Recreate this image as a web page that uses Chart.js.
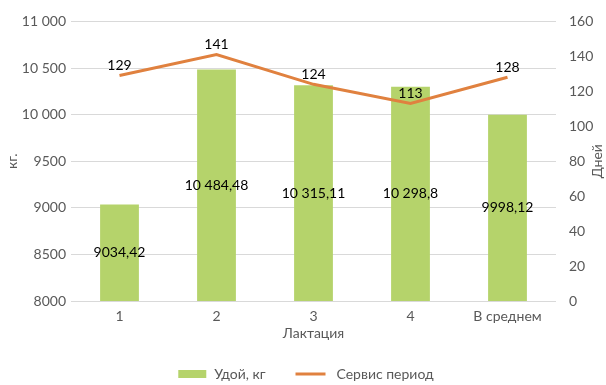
<!DOCTYPE html>
<html>
<head>
<meta charset="utf-8">
<script src="https://cdn.jsdelivr.net/npm/chart.js@4"></script>
<style>
    html, body { margin: 0; padding: 0; background: #fff; }
    #wrap { width: 606px; height: 385px; }
</style>
</head>
<body>
<div id="wrap"><canvas id="chart"></canvas></div>
<script>
// данные по лактациям
const lactations = ["1", "2", "3", "4", "В среднем"];
const milkYield = [9034.42, 10484.48, 10315.11, 10298.8, 9998.12];
const servicePeriod = [129, 141, 124, 113, 128];

const yieldTicks = [8000, 8500, 9000, 9500, 10000, 10500, 11000];
const dayTicks = [0, 20, 40, 60, 80, 100, 120, 140, 160];

const green = "#b5d36b";
const orange = "#e0813f";
const gray = "#595959";
const font = "Lato";

// 10484.48 -> "10 484,48", 9034.42 -> "9034,42"
function fmt(v) {
    var parts = String(v).split(".");
    var int = parts[0];
    if (int.length > 4) {
        int = int.replace(/\B(?=(\d{3})+(?!\d))/g, " ");
    }
    return parts.length > 1 ? int + "," + parts[1] : int;
}

// подписи значений на столбцах и на линии + заголовок правой оси
const valueLabels = {
    id: "valueLabels",
    afterDatasetsDraw(chart) {
        var ctx = chart.ctx;
        var yScale = chart.scales.y;
        var y1Scale = chart.scales.y1;
        ctx.save();
        ctx.fillStyle = "#000";
        ctx.font = "14px " + font;
        ctx.textAlign = "center";

        var bars = chart.getDatasetMeta(0);
        bars.data.forEach(function (el, i) {
            var top = yScale.getPixelForValue(milkYield[i]);
            var base = yScale.getPixelForValue(yScale.min);
            ctx.textBaseline = "middle";
            ctx.fillText(fmt(milkYield[i]), el.x, (top + base) / 2);
        });

        var line = chart.getDatasetMeta(1);
        line.data.forEach(function (el, i) {
            var y = y1Scale.getPixelForValue(servicePeriod[i]);
            ctx.textBaseline = "bottom";
            ctx.fillText(fmt(servicePeriod[i]), el.x, y - 3);
        });

        // "Дней" читается снизу вверх, как у левой оси
        ctx.fillStyle = gray;
        ctx.textBaseline = "middle";
        ctx.translate(597, (y1Scale.top + y1Scale.bottom) / 2);
        ctx.rotate(-Math.PI / 2);
        ctx.fillText("Дней", 0, 0);
        ctx.restore();
    }
};

// легенда внизу: прямоугольник для столбцов, отрезок для линии
const bottomLegend = {
    id: "bottomLegend",
    afterDraw(chart) {
        var ctx = chart.ctx;
        var names = chart.data.datasets.map(function (d) { return d.label; });
        var cy = 374;
        ctx.save();
        ctx.font = "14px " + font;
        var w1 = ctx.measureText(names[0]).width;
        var w2 = ctx.measureText(names[1]).width;
        var total = 28 + 8 + w1 + 30 + 30 + 11 + w2;
        var x = 306 - total / 2;

        ctx.fillStyle = green;
        ctx.fillRect(x, cy - 4, 28, 8);
        x += 28 + 8;
        ctx.fillStyle = gray;
        ctx.textAlign = "left";
        ctx.textBaseline = "middle";
        ctx.fillText(names[0], x, cy);
        x += w1 + 30;

        ctx.strokeStyle = orange;
        ctx.lineWidth = 3;
        ctx.beginPath();
        ctx.moveTo(x, cy);
        ctx.lineTo(x + 30, cy);
        ctx.stroke();
        x += 30 + 11;
        ctx.fillText(names[1], x, cy);
        ctx.restore();
    }
};

var ctx = document.getElementById("chart").getContext("2d");
var myChart = new Chart(ctx, {
    data: {
        labels: lactations,
        datasets: [
            {
                type: "bar",
                label: "Удой, кг",
                data: milkYield,
                yAxisID: "y",
                backgroundColor: green,
                barPercentage: 0.4,
                categoryPercentage: 1,
                order: 1
            },
            {
                type: "line",
                label: "Сервис период",
                data: servicePeriod,
                yAxisID: "y1",
                borderColor: orange,
                backgroundColor: orange,
                borderWidth: 3,
                pointRadius: 0,
                tension: 0,
                order: 0
            }
        ]
    },
    options: {
        responsive: true,
        maintainAspectRatio: false,
        animation: false,
        layout: { padding: { top: 11, left: 0, right: 0, bottom: 30 } },
        scales: {
            x: {
                grid: { display: false, drawTicks: false },
                border: { display: false },
                ticks: { color: gray, font: { family: font, size: 14 }, padding: 7 },
                title: {
                    display: true,
                    text: "Лактация",
                    color: gray,
                    font: { family: font, size: 14 },
                    padding: { top: 0, bottom: 13 }
                },
                afterFit: function (scale) { scale.height = 54; }
            },
            y: {
                position: "left",
                min: 8000,
                max: 11000,
                afterBuildTicks: function (scale) {
                    scale.ticks = yieldTicks.map(function (v) { return { value: v }; });
                },
                grid: { color: "#d9d9d9", drawTicks: false },
                border: { display: false },
                ticks: {
                    color: gray,
                    font: { family: font, size: 14 },
                    padding: 5,
                    callback: function (v) { return fmt(v); }
                },
                title: {
                    display: true,
                    text: "кг.",
                    color: gray,
                    font: { family: font, size: 14 },
                    padding: { top: 4, bottom: 2 }
                },
                afterFit: function (scale) { scale.width = 71; }
            },
            y1: {
                position: "right",
                min: 0,
                max: 160,
                afterBuildTicks: function (scale) {
                    scale.ticks = dayTicks.map(function (v) { return { value: v }; });
                },
                grid: { display: false, drawTicks: false },
                border: { display: false },
                ticks: {
                    color: gray,
                    font: { family: font, size: 14 },
                    padding: 13
                },
                afterFit: function (scale) { scale.width = 50; }
            }
        },
        plugins: {
            legend: { display: false },
            tooltip: { enabled: false }
        }
    },
    plugins: [valueLabels, bottomLegend]
});
</script>
</body>
</html>
